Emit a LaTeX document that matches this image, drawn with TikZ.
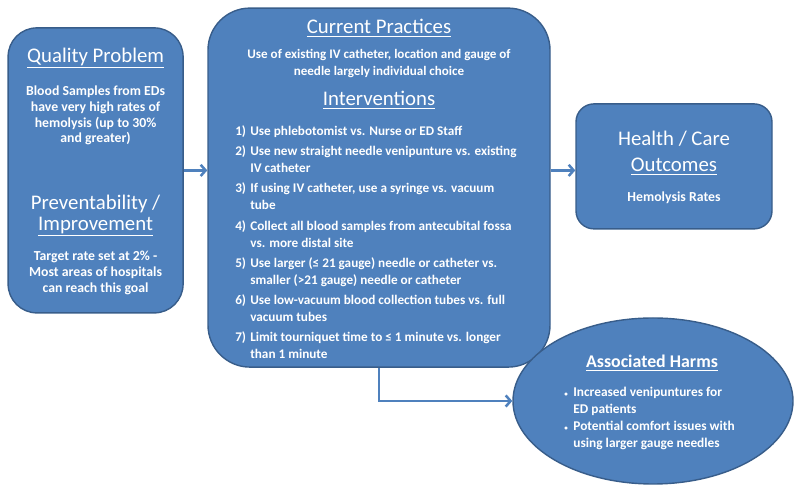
\documentclass[tikz,border=0pt]{standalone}
\usepackage{fontspec}
\setmainfont{Carlito}
\usetikzlibrary{arrows.meta,shapes.geometric}
\definecolor{boxblue}{HTML}{4F81BD}
\definecolor{edgeblue}{HTML}{385D8A}

\begin{document}
\begin{tikzpicture}[
    blob/.style={draw=edgeblue, line width=1pt, fill=boxblue, inner sep=0pt},
    head/.style={text=white, font=\fontsize{14.8}{18.5}\selectfont, align=center},
    txt/.style={text=white, font=\bfseries\fontsize{9.8}{11.1}\selectfont, align=center},
    link/.style={draw=boxblue, line width=1.8pt, -{Straight Barb[length=3.5pt,width=8pt]}}
]
    \useasboundingbox (0,0) rectangle (20,12.3);

    % Boxes
    \node[blob, rounded corners=0.72cm, minimum width=4.375cm, minimum height=7.125cm] (quality) at (2.39,8.04) {};
    \node[blob, rounded corners=1.05cm, minimum width=8.55cm, minimum height=8.975cm] (current) at (9.475,7.61) {};
    \node[blob, rounded corners=0.45cm, minimum width=4.9cm, minimum height=3.125cm] (outcome) at (16.85,8.14) {};
    \node[blob, ellipse, minimum width=7cm, minimum height=4.15cm] (harms) at (16.325,2.275) {};

    % Connectors
    \draw[link] (quality.east) -- (quality.east -| current.west);
    \draw[link] (current.east |- quality.east) -- (outcome.west |- quality.east);
    \draw[link] (current.south) |- (harms.west);

    % Left box
    \node[head] (qptitle) at (2.39,10.85) {\underline{Quality Problem}};
    \node[txt] (qptext) at (2.39,9.41) {Blood Samples from EDs\\have very high rates of\\hemolysis (up to  30\%\\and greater)};
    \node[head, font=\fontsize{14.8}{15}\selectfont] (pvtitle) at (2.39,6.91) {Preventability /\\\underline{Improvement}};
    \node[txt] (pvtext) at (2.39,5.475) {Target rate set at 2\% -\\Most areas of hospitals\\can reach this goal};

    % Middle box
    \node[head] (cptitle) at (9.475,11.6) {\underline{Current Practices}};
    \node[txt, font=\bfseries\fontsize{9.3}{12}\selectfont] (cptext) at (9.475,10.71) {Use of existing IV catheter, location and gauge of\\needle largely individual choice};
    \node[head] (ivtitle) at (9.475,9.8) {\underline{Interventions}};
    \node[txt, anchor=north west, align=left, inner sep=0pt, font=\bfseries\fontsize{9.4}{12.1}\selectfont] (ivlist) at (5.875,9.22) {%
        \begin{tabular}{@{}l@{\hspace{3pt}}l@{}}
        1) & Use phlebotomist  vs. Nurse or ED Staff\\[2.3pt]
        2) & Use new straight needle venipunture vs. existing\\
           & IV catheter\\[2.3pt]
        3) & If using IV catheter, use a syringe vs. vacuum\\
           & tube\\[2.3pt]
        4) & Collect all blood samples from antecubital fossa\\
           & vs. more distal site\\[2.3pt]
        5) & Use larger (≤ 21 gauge) needle or catheter  vs.\\
           & smaller (>21 gauge) needle or catheter\\[2.3pt]
        6) & Use low-vacuum blood collection tubes vs. full\\
           & vacuum tubes\\[2.3pt]
        7) & Limit tourniquet time to ≤ 1 minute vs. longer\\
           & than 1 minute
        \end{tabular}};

    % Right box
    \node[head] (hctitle) at (16.85,8.475) {Health / Care\\\underline{Outcomes}};
    \node[txt] (hctext) at (16.85,7.35) {Hemolysis Rates};

    % Ellipse
    \node[txt, font=\bfseries\fontsize{12.7}{14}\selectfont] (ahtitle) at (16.3,3.225) {\underline{Associated Harms}};
    \node[txt, anchor=west, align=left, inner sep=0pt, font=\bfseries\fontsize{9.5}{12.1}\selectfont] (ahlist) at (14.1,1.84) {%
        \begin{tabular}{@{}l@{\hspace{4pt}}l@{}}
        {\tiny\textbullet} & Increased  venipuntures for\\
           & ED patients\\
        {\tiny\textbullet} & Potential comfort issues with\\
           & using larger gauge needles
        \end{tabular}};
\end{tikzpicture}
\end{document}
